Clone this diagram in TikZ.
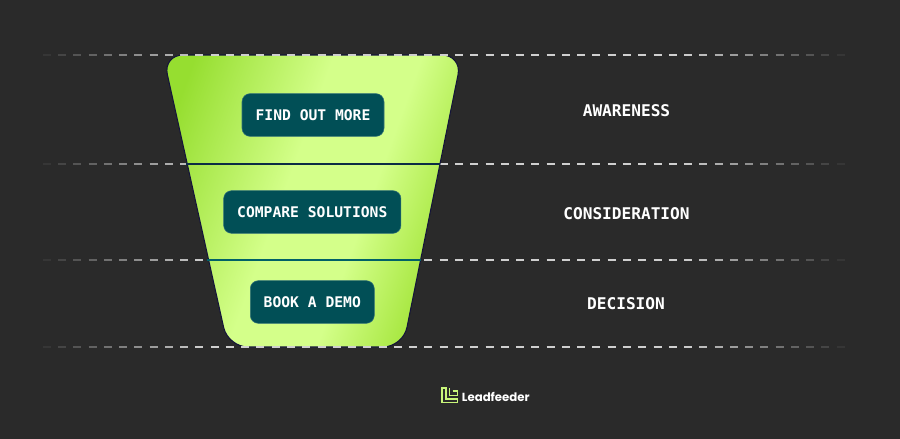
\documentclass[tikz,border=0pt]{standalone}
\usepackage{fontspec}
\setmonofont{DejaVu Sans Mono}
\setsansfont{Poppins}
\definecolor{bgdark}{HTML}{2A2A2A}
\definecolor{boxteal}{HTML}{014F56}
\definecolor{edgenavy}{HTML}{14143A}
\definecolor{dashgrey}{HTML}{CFCFCF}
\definecolor{logogreen}{HTML}{C8F57A}
\definecolor{gA}{HTML}{96DE30}
\definecolor{gB}{HTML}{D4FF8A}
\definecolor{gC}{HTML}{A2E438}
\pgfdeclarehorizontalshading{funnelshade}{100bp}{
  color(0bp)=(gA); color(23bp)=(gA); color(45bp)=(gB); color(59bp)=(gB); color(74bp)=(gC); color(100bp)=(gC)}
\tikzset{
  stagebox/.style={draw=boxteal!80!white, line width=0.4pt, fill=boxteal, rounded corners=6pt, text=white,
    font=\ttfamily\fontsize{11}{13}\selectfont\bfseries, inner sep=0pt, anchor=center},
  stagelabel/.style={text=white, font=\ttfamily\fontsize{12.1}{14}\selectfont\bfseries, anchor=center, inner sep=0pt},
  divider/.style={line width=1.2pt},
  logoline/.style={draw=logogreen, line width=0.9pt, line join=miter}
}
\newcommand{\dashrow}[1]{%
  \foreach \n in {0,...,52}{%
    \pgfmathsetmacro{\xs}{42.7+15.27*\n}%
    \pgfmathsetmacro{\op}{max(0.04,min(1,min((\xs-30)/170,(850-\xs)/170)))}%
    \draw[dashgrey, draw opacity=\op, line width=1pt] (\xs,#1) -- ++(8,0);%
  }%
}
\begin{document}
\begin{tikzpicture}[x=0.75pt,y=-0.75pt]
\useasboundingbox (0,0) rectangle (900,439);
\fill[bgdark] (0,0) rectangle (900,439);
% dashed rules behind the funnel
\dashrow{164}
\dashrow{260}
% funnel
\shade[shading=funnelshade, shading angle=-20, rounded corners=15pt]
  (163,55) -- (462,55) -- (403,347) -- (228,347) -- cycle;
\draw[edgenavy, line width=0.8pt, rounded corners=15pt]
  (163,55) -- (462,55) -- (403,347) -- (228,347) -- cycle;
% dashed rules over the funnel edges
\dashrow{55}
\dashrow{347}
% dividers
\coordinate (d1l) at (186,164); \coordinate (d1r) at (440,164);
\coordinate (d2l) at (207,260); \coordinate (d2r) at (421,260);
\draw[divider, draw=edgenavy!60!boxteal] (d1l) -- (d1r);
\draw[divider, draw=boxteal!90!cyan, line width=1.6pt] (d2l) -- (d2r);
% boxes
\node[stagebox, minimum width=106.5pt, minimum height=32pt] (find) at (313,115) {FIND OUT MORE};
\node[stagebox, minimum width=133pt, minimum height=32pt] (compare) at (312.3,212) {COMPARE SOLUTIONS};
\node[stagebox, minimum width=93pt, minimum height=32pt] (book) at (312.3,302) {BOOK A DEMO};
% labels
\node[stagelabel] (awareness) at (626.5,110.5) {AWARENESS};
\node[stagelabel] (consideration) at (626.5,213.5) {CONSIDERATION};
\node[stagelabel] (decision) at (626,303.5) {DECISION};
% logo
\draw[logoline] (442,388) -- (446,388) -- (446,399) -- (457.5,399) -- (457.5,402.5) -- (442,402.5) -- cycle;
\draw[logoline] (449.5,388) -- (449.5,395.5) -- (457.5,395.5);
\draw[logoline] (452.5,391) -- (457.5,391) -- (457.5,395.5);
\node[text=white, font=\sffamily\fontsize{8.8}{12}\selectfont\bfseries, anchor=west, inner sep=0pt] (brand) at (461.7,396.7) {Leadfeeder};
\end{tikzpicture}
\end{document}
